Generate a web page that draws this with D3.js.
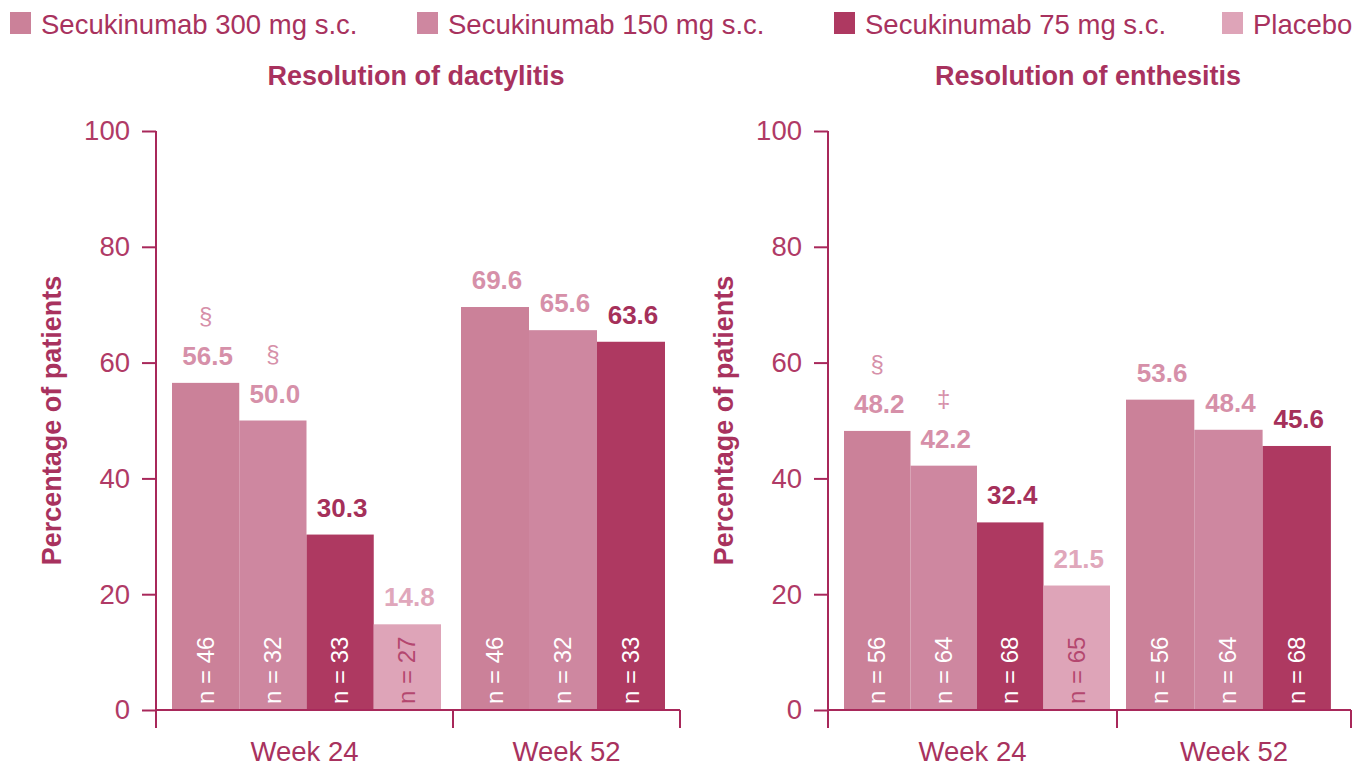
<!DOCTYPE html>
<html>
<head>
<meta charset="utf-8">
<script src="https://cdn.jsdelivr.net/npm/d3@7"></script>
<style>
  body { margin: 0; background: #fff; }
  svg { font-family: "Liberation Sans", Arial, sans-serif; }
</style>
</head>
<body>
<div id="chart"></div>
<script>
// legend / series
var seriesNames = ["Secukinumab 300 mg s.c.", "Secukinumab 150 mg s.c.", "Secukinumab 75 mg s.c.", "Placebo"];
var barColors = ["#cb8199", "#ce87a0", "#ae3961", "#dea4b8"];
var labelColors = ["#d690a9", "#d690a9", "#a5305a", "#e0a7bb"];
var nColors = ["#ffffff", "#ffffff", "#ffffff", "#b4476f"];
var weeks = ["Week 24", "Week 52"];
var yTicks = [0, 20, 40, 60, 80, 100];

// Resolution of dactylitis
var dactW24 = [56.5, 50.0, 30.3, 14.8];
var dactW52 = [69.6, 65.6, 63.6];
var dactN24 = [46, 32, 33, 27];
var dactN52 = [46, 32, 33];
var dactMarks24 = ["§", "§", "", ""];

// Resolution of enthesitis
var enthW24 = [48.2, 42.2, 32.4, 21.5];
var enthW52 = [53.6, 48.4, 45.6];
var enthN24 = [56, 64, 68, 65];
var enthN52 = [56, 64, 68];
var enthMarks24 = ["§", "‡", "", ""];

var axisColor = "#a8285a";
var textColor = "#a8325e";

var svg = d3.select("#chart").append("svg")
    .attr("width", 1354)
    .attr("height", 766);

// legend
var legendX = [10, 417, 834, 1222];
var legend = svg.append("g");
seriesNames.forEach(function(name, i) {
    legend.append("rect")
        .attr("x", legendX[i]).attr("y", 12)
        .attr("width", 21).attr("height", 22)
        .attr("fill", barColors[i]);
    legend.append("text")
        .attr("x", legendX[i] + 31).attr("y", 34)
        .attr("fill", textColor)
        .style("font-size", "27.5px")
        .text(name);
});

var y = d3.scaleLinear().domain([0, 100]).range([710, 131]);

var panel = function(opts) {
    let g = svg.append("g").attr("transform", `translate(${opts.x0}, 0)`);

    g.append("text")
        .attr("x", opts.titleX).attr("y", 85)
        .attr("text-anchor", "middle")
        .attr("fill", textColor)
        .style("font-size", "27px")
        .style("font-weight", "bold")
        .text(opts.title);

    // y axis
    let yAxis = g.append("g")
        .call(d3.axisLeft(y).tickValues(yTicks).tickSize(14).tickPadding(12).tickSizeOuter(0));
    yAxis.select(".domain").remove();
    yAxis.selectAll("line").attr("stroke", axisColor).attr("stroke-width", 2);
    yAxis.selectAll("text")
        .attr("fill", "#b03a66")
        .style("font-size", "27.5px")
        .style("font-family", "Liberation Sans, Arial, sans-serif");
    g.append("line")
        .attr("x1", 0).attr("x2", 0)
        .attr("y1", y(100)).attr("y2", y(0) + 18)
        .attr("stroke", axisColor).attr("stroke-width", 2);

    g.append("text")
        .attr("transform", `translate(${-95}, ${y(50)}) rotate(-90)`)
        .attr("text-anchor", "middle")
        .attr("fill", textColor)
        .style("font-size", "27px")
        .style("font-weight", "bold")
        .text("Percentage of patients");

    // bars per week group
    let groups = [
        {week: weeks[0], values: opts.w24, n: opts.n24, marks: opts.marks24, start: opts.start24, bw: opts.bw24},
        {week: weeks[1], values: opts.w52, n: opts.n52, marks: ["", "", ""], start: opts.start52, bw: opts.bw52}
    ];

    groups.forEach(function(grp) {
        let x = d3.scaleBand()
            .domain(d3.range(grp.values.length))
            .range([grp.start, grp.start + grp.values.length * grp.bw])
            .padding(0);
        let rows = grp.values.map(function(v, i) {
            return {i: i, v: v, n: grp.n[i], mark: grp.marks[i]};
        });
        let bg = g.append("g");
        bg.selectAll("rect")
            .data(rows)
            .enter()
            .append("rect")
            .attr("x", function(d) { return x(d.i); })
            .attr("y", function(d) { return y(d.v); })
            .attr("width", x.bandwidth())
            .attr("height", function(d) { return y(0) - y(d.v); })
            .attr("fill", function(d) { return barColors[d.i]; });
        bg.selectAll(".val")
            .data(rows)
            .enter()
            .append("text")
            .attr("class", "val")
            .attr("x", function(d) { return x(d.i) + x.bandwidth() / 2 + 2; })
            .attr("y", function(d) { return y(d.v) - 18; })
            .attr("text-anchor", "middle")
            .attr("fill", function(d) { return labelColors[d.i]; })
            .style("font-size", "26px")
            .style("font-weight", "bold")
            .text(function(d) { return d.v.toFixed(1); });
        bg.selectAll(".mark")
            .data(rows.filter(function(d) { return d.mark; }))
            .enter()
            .append("text")
            .attr("class", "mark")
            .attr("x", function(d) { return x(d.i) + x.bandwidth() / 2; })
            .attr("y", function(d) { return y(d.v) - 59; })
            .attr("text-anchor", "middle")
            .attr("fill", function(d) { return labelColors[d.i]; })
            .style("font-size", "24px")
            .text(function(d) { return d.mark; });
        bg.selectAll(".n")
            .data(rows)
            .enter()
            .append("text")
            .attr("class", "n")
            .attr("transform", function(d) {
                return `translate(${x(d.i) + x.bandwidth() / 2 + 8}, ${y(0) - 6}) rotate(-90)`;
            })
            .attr("fill", function(d) { return nColors[d.i]; })
            .style("font-size", "24px")
            .text(function(d) { return "n = " + d.n; });
    });

    // x axis
    g.append("line")
        .attr("x1", 0).attr("x2", opts.end)
        .attr("y1", y(0)).attr("y2", y(0))
        .attr("stroke", axisColor).attr("stroke-width", 2);
    [opts.divider, opts.end].forEach(function(px) {
        g.append("line")
            .attr("x1", px).attr("x2", px)
            .attr("y1", y(0)).attr("y2", y(0) + 18)
            .attr("stroke", axisColor).attr("stroke-width", 2);
    });
    let weekCenters = [opts.divider / 2, (opts.divider + opts.end) / 2];
    weeks.forEach(function(w, i) {
        g.append("text")
            .attr("x", weekCenters[i]).attr("y", 761)
            .attr("text-anchor", "middle")
            .attr("fill", textColor)
            .style("font-size", "27.5px")
            .text(w);
    });
};

panel({
    x0: 156, title: "Resolution of dactylitis", titleX: 260,
    w24: dactW24, w52: dactW52, n24: dactN24, n52: dactN52, marks24: dactMarks24,
    start24: 16, bw24: 67.25, start52: 305, bw52: 68, divider: 297, end: 524
});
panel({
    x0: 828, title: "Resolution of enthesitis", titleX: 260,
    w24: enthW24, w52: enthW52, n24: enthN24, n52: enthN52, marks24: enthMarks24,
    start24: 16, bw24: 66.5, start52: 298, bw52: 68.3, divider: 289, end: 523
});
</script>
</body>
</html>
